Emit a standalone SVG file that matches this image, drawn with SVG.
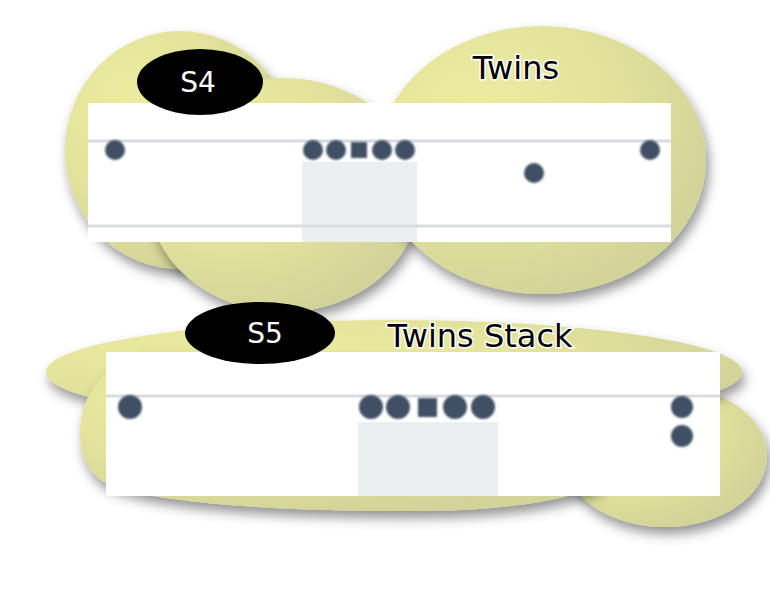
<svg xmlns="http://www.w3.org/2000/svg" width="770" height="595" viewBox="0 0 770 595">
<defs>
<radialGradient id="yel" cx="0.3" cy="0.3" r="0.75">
<stop offset="0" stop-color="#ececa0"/>
<stop offset="0.55" stop-color="#e2e29c"/>
<stop offset="1" stop-color="#d2d398"/>
</radialGradient>
<filter id="sh" x="-20%" y="-20%" width="140%" height="150%">
<feDropShadow dx="3" dy="7" stdDeviation="6" flood-color="#000" flood-opacity="0.42"/>
</filter>
<filter id="soft" x="-50%" y="-50%" width="200%" height="200%">
<feGaussianBlur stdDeviation="0.9"/>
</filter>
</defs>
<style>
.blob{fill:url(#yel);filter:url(#sh)}
.panel{fill:#ffffff}
.line{stroke:#d9dce1;stroke-width:3}
.zone{fill:#eceff1}
.p{fill:#3f5063;filter:url(#soft)}
.tag{fill:#000}
.tagt{font-family:"DejaVu Sans",sans-serif;font-size:28px;fill:#fff;text-anchor:middle}
.ttl{font-family:"DejaVu Sans",sans-serif;font-size:32px;fill:#000;stroke:#fff;stroke-width:3;paint-order:stroke;text-anchor:middle}
</style>
<g id="s4">
<ellipse class="blob" cx="180" cy="150" rx="115" ry="119"/>
<ellipse class="blob" cx="284" cy="195" rx="136" ry="117"/>
<ellipse class="blob" cx="542" cy="160" rx="164" ry="134"/>
<rect class="panel" x="88" y="103" width="583" height="139"/>
<rect class="zone" x="302" y="162" width="115" height="80"/>
<line class="line" x1="88" y1="141" x2="671" y2="141"/>
<line class="line" x1="88" y1="226" x2="671" y2="226"/>
<circle class="p" cx="115" cy="150" r="10"/>
<circle class="p" cx="313" cy="150" r="10"/>
<circle class="p" cx="336" cy="150" r="10"/>
<rect class="p" x="351" y="142" width="16" height="16"/>
<circle class="p" cx="382" cy="150" r="10"/>
<circle class="p" cx="405" cy="150" r="10"/>
<circle class="p" cx="534" cy="173" r="10"/>
<circle class="p" cx="650" cy="150" r="10"/>
<ellipse class="tag" cx="200" cy="82" rx="63" ry="33"/>
<text class="tagt" x="198" y="92">S4</text>
<text class="ttl" x="516" y="79">Twins</text>
</g>
<g id="s5">
<ellipse class="blob" cx="665" cy="456" rx="102" ry="71"/>
<ellipse class="blob" cx="394" cy="372" rx="348" ry="52"/>
<path class="blob" d="M 150,350 C 105,362 80,395 80,432 C 80,460 92,478 112,486 C 170,505 290,511 412,511 C 500,511 560,502 600,485 L 640,360 Z"/>
<rect class="panel" x="106" y="352" width="614" height="144"/>
<rect class="zone" x="358" y="422" width="140" height="74"/>
<line class="line" x1="106" y1="396" x2="720" y2="396"/>
<circle class="p" cx="130" cy="407" r="12"/>
<circle class="p" cx="371" cy="407" r="12"/>
<circle class="p" cx="398" cy="407" r="12"/>
<rect class="p" x="418" y="398" width="19" height="19"/>
<circle class="p" cx="455" cy="407" r="12"/>
<circle class="p" cx="483" cy="407" r="12"/>
<circle class="p" cx="682" cy="407" r="11"/>
<circle class="p" cx="682" cy="436" r="11"/>
<ellipse class="tag" cx="260" cy="333" rx="75" ry="31"/>
<text class="tagt" x="265" y="343">S5</text>
<text class="ttl" x="480" y="347">Twins Stack</text>
</g>
<g id="connectors"/>
</svg>
